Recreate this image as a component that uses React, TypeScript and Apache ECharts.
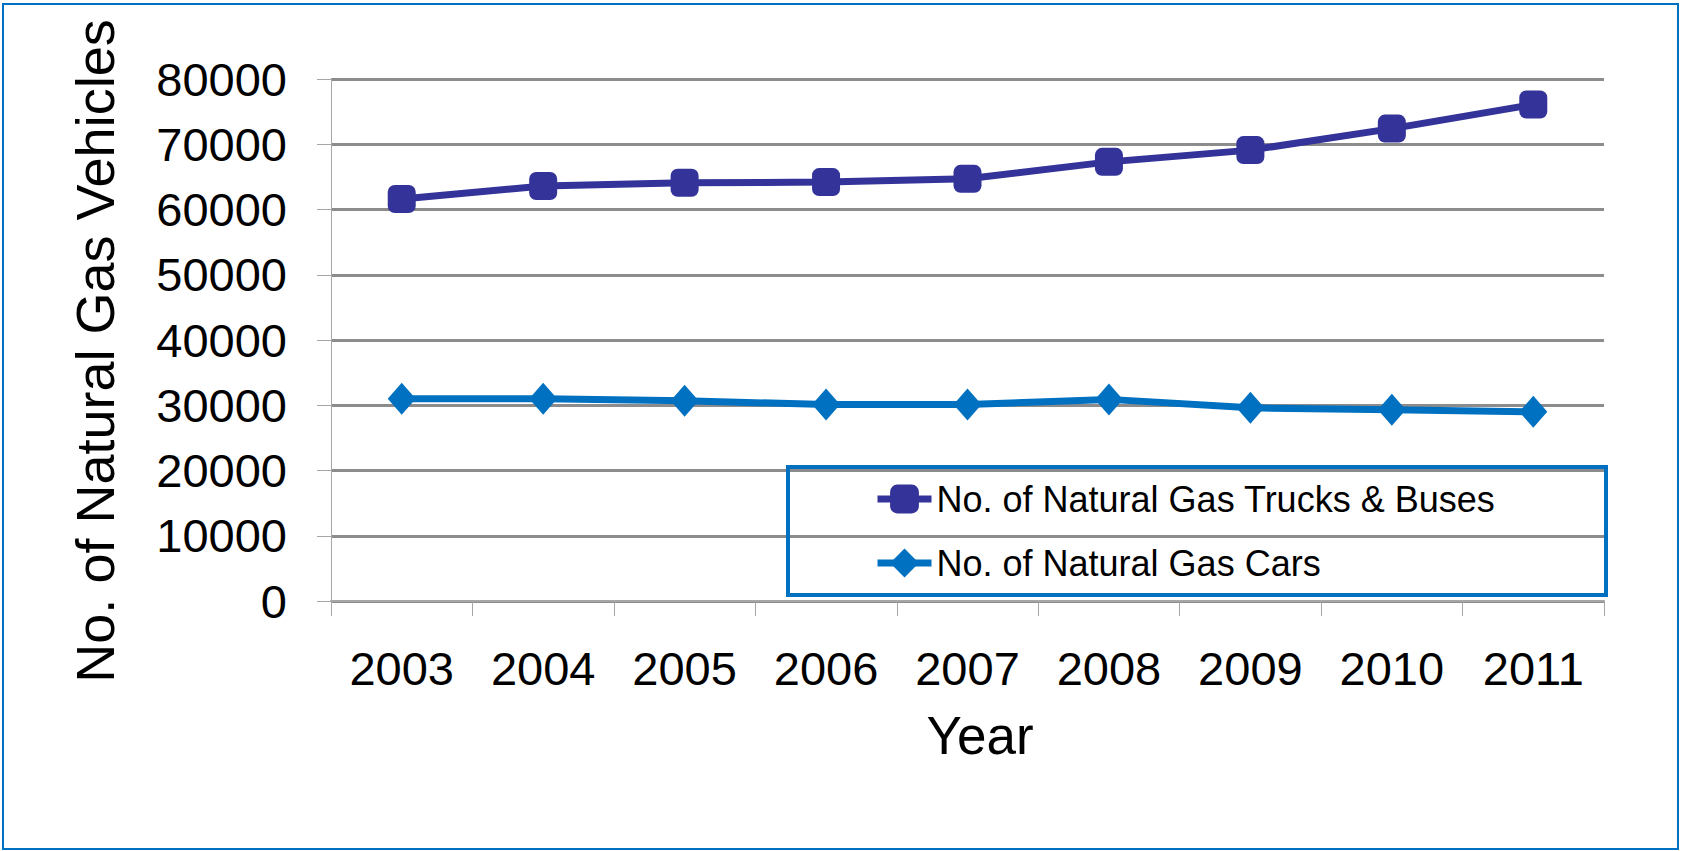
import React, { useEffect, useRef } from "react";
import * as echarts from "echarts";

const years = ["2003", "2004", "2005", "2006", "2007", "2008", "2009", "2010", "2011"];
const trucksBuses = [61600, 63600, 64100, 64200, 64700, 67300, 69100, 72400, 76100];
const cars = [31000, 31000, 30700, 30100, 30100, 30900, 29600, 29300, 29000];
const seriesNames = ["No. of Natural Gas Trucks & Buses", "No. of Natural Gas Cars"];

const FONT = "'Liberation Sans', Arial, sans-serif";

export default function App() {
  const ref = useRef<HTMLDivElement>(null);
  useEffect(() => {
    if (!ref.current) return;
    const chart = echarts.init(ref.current, undefined, { renderer: "svg" });
    chart.setOption({
      animation: false,
      backgroundColor: "#ffffff",
      textStyle: { fontFamily: FONT },
      grid: { left: 331, right: 77, top: 79, bottom: 250 },
      xAxis: {
        type: "category",
        data: years,
        boundaryGap: true,
        name: "Year",
        nameLocation: "middle",
        nameGap: 108,
        nameTextStyle: { fontSize: 53, color: "#000", fontFamily: FONT, padding: [0, 0, 0, 25] },
        axisLine: { show: true, lineStyle: { color: "#a6a6a6", width: 2 } },
        axisTick: { show: true, length: 15, lineStyle: { color: "#a6a6a6", width: 1 } },
        axisLabel: { fontSize: 47, color: "#000", margin: 44, fontFamily: FONT },
        splitLine: { show: false },
      },
      yAxis: {
        type: "value",
        min: 0,
        max: 80000,
        interval: 10000,
        name: "No. of Natural Gas Vehicles",
        nameLocation: "middle",
        nameGap: 209,
        nameTextStyle: { fontSize: 54, color: "#000", fontFamily: FONT, padding: [0, 22, 0, 0] },
        axisLine: { show: true, lineStyle: { color: "#a6a6a6", width: 1 } },
        axisTick: { show: true, length: 14, lineStyle: { color: "#a6a6a6", width: 1 } },
        axisLabel: {
          fontSize: 47,
          color: "#000",
          margin: 44,
          fontFamily: FONT,
          formatter: (v: number) => String(v),
        },
        splitLine: { show: true, lineStyle: { color: "#8c8c8c", width: 3 } },
      },
      legend: {
        orient: "vertical",
        left: 874,
        top: 481,
        padding: 0,
        itemWidth: 54,
        itemHeight: 36,
        itemGap: 28,
        lineStyle: { width: 7 },
        textStyle: { fontSize: 36, color: "#000", fontFamily: FONT },
        data: seriesNames,
      },
      graphic: [
        {
          type: "rect",
          shape: { x: 3, y: 4, width: 1675, height: 845 },
          style: { fill: "none", stroke: "#0070C0", lineWidth: 2 },
          silent: true,
        },
        {
          type: "rect",
          shape: { x: 788, y: 467, width: 818, height: 128 },
          style: { fill: "none", stroke: "#0070C0", lineWidth: 4 },
          silent: true,
          z: 100,
        },
      ],
      series: [
        {
          name: seriesNames[0],
          type: "line",
          data: trucksBuses,
          symbol: "roundRect",
          symbolSize: 28,
          lineStyle: { color: "#333399", width: 7 },
          itemStyle: { color: "#333399" },
        },
        {
          name: seriesNames[1],
          type: "line",
          data: cars,
          symbol: "diamond",
          symbolSize: [28, 32],
          lineStyle: { color: "#0070C0", width: 7 },
          itemStyle: { color: "#0070C0" },
        },
      ],
    });
    return () => chart.dispose();
  }, []);
  return (
    <div
      ref={ref}
      style={{ position: "fixed", left: 0, top: 0, width: 1681, height: 851 }}
    />
  );
}
